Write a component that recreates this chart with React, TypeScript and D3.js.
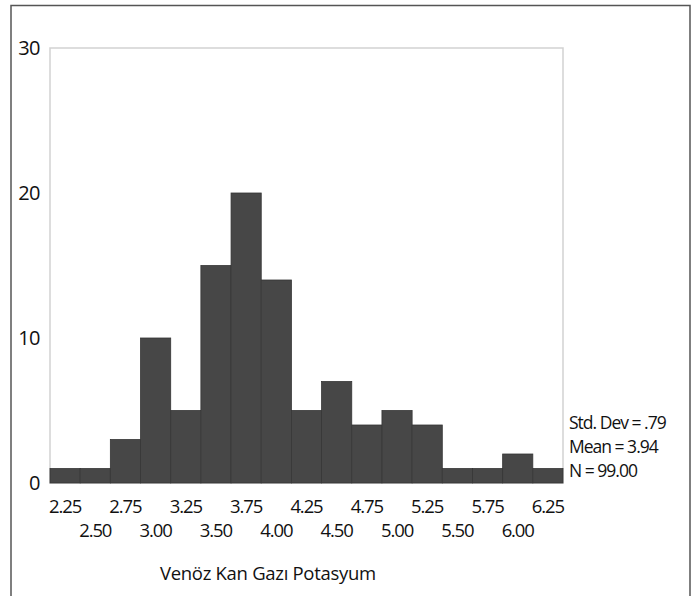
import React from 'react';
import * as d3 from 'd3';

// histogram bins (bin centres) and counts
const binCenters = [2.25, 2.5, 2.75, 3.0, 3.25, 3.5, 3.75, 4.0, 4.25, 4.5, 4.75, 5.0, 5.25, 5.5, 5.75, 6.0, 6.25];
const counts = [1, 1, 3, 10, 5, 15, 20, 14, 5, 7, 4, 5, 4, 1, 1, 2, 1];
const yTicks = [0, 10, 20, 30];
const statsLines = ['Std. Dev = .79', 'Mean = 3.94', 'N = 99.00'];
const xTitle = 'Venöz Kan Gazı Potasyum';

const W = 694;
const H = 596;
const FONT = "'Open Sans', sans-serif";

const App = () => {
  const left = 50, right = 563, top = 48, bottom = 483;
  const binW = 0.25;

  const x = d3.scaleLinear()
    .domain([binCenters[0] - binW / 2, binCenters[binCenters.length - 1] + binW / 2])
    .range([left, right]);
  const y = d3.scaleLinear().domain([0, 30]).range([bottom, top]);

  return (
    <svg width={W} height={H} style={{ position: 'absolute', left: 0, top: 0, background: '#fff' }}>
      {/* outer frame */}
      <path d={`M11,${H + 2} V5.5 H690 V${H + 2}`} fill="none" stroke="#555" strokeWidth={1.5} />

      {/* plot frame */}
      <rect x={left} y={top} width={right - left} height={bottom - top}
        fill="none" stroke="#d2d2d2" strokeWidth={1.5} />

      {/* bars */}
      {counts.map((c, i) => (
        <rect key={i}
          x={x(binCenters[i] - binW / 2)}
          y={y(c)}
          width={x(binCenters[i] + binW / 2) - x(binCenters[i] - binW / 2)}
          height={y(0) - y(c)}
          fill="#474747" stroke="#363636" strokeWidth={0.8} />
      ))}

      {/* y labels */}
      {yTicks.map(t => (
        <text key={t} x={40} y={y(t)} dy="0.35em" textAnchor="end"
          fontFamily={FONT} fontSize={20} letterSpacing={-0.5} fill="#111">{t}</text>
      ))}

      {/* x labels, alternating rows */}
      {binCenters.map((v, i) => (
        <text key={v} x={x(v)} y={i % 2 === 0 ? 513 : 537} textAnchor="middle"
          fontFamily={FONT} fontSize={18.5} letterSpacing={-1.1} fill="#111">{v.toFixed(2)}</text>
      ))}

      <text x={160} y={580} fontFamily={FONT} fontSize={18.5} letterSpacing={-0.3} fill="#111">{xTitle}</text>

      {/* stats */}
      {statsLines.map((s, i) => (
        <text key={s} x={569} y={429 + i * 24} fontFamily={FONT} fontSize={17.5}
          letterSpacing={-1} fill="#111">{s}</text>
      ))}
    </svg>
  );
};

export default App;
